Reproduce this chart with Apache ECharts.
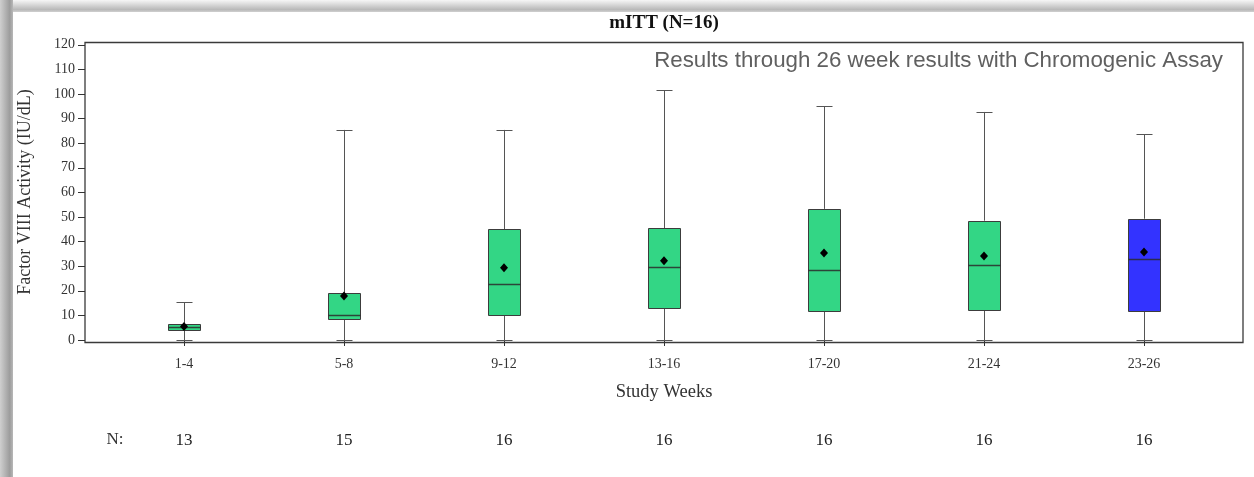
<!DOCTYPE html>
<html>
<head>
<meta charset="utf-8">
<script src="https://cdn.jsdelivr.net/npm/echarts@6/dist/echarts.min.js"></script>
<style>
html,body{margin:0;padding:0;background:#fff;}
#chart{width:1254px;height:477px;}
</style>
</head>
<body>
<div id="chart"></div>
<script>
// ---- data ----
const categories = ['1-4', '5-8', '9-12', '13-16', '17-20', '21-24', '23-26'];
const minVals    = [0, 0, 0, 0, 0, 0, 0];
const q1Vals     = [3.8, 8.4, 10.2, 12.9, 11.8, 12.5, 11.8];
const medianVals = [5.2, 10.3, 22.8, 29.7, 28.3, 30.6, 32.9];
const q3Vals     = [6.4, 19.0, 45.0, 45.5, 53.3, 48.5, 49.3];
const maxVals    = [15.3, 85.4, 85.4, 101.6, 95.1, 92.7, 83.7];
const meanVals   = [5.5, 17.9, 29.4, 32.2, 35.4, 34.1, 35.8];
const nCounts    = ['13', '15', '16', '16', '16', '16', '16'];
const yTicks     = [0, 10, 20, 30, 40, 50, 60, 70, 80, 90, 100, 110, 120];

const GREEN = '#33D685';
const BLUE = '#3333FF';
const SERIF = '"Liberation Serif", "Times New Roman", serif';

const boxData = categories.map((c, i) => ({
  value: [i, minVals[i], q1Vals[i], medianVals[i], q3Vals[i], maxVals[i], meanVals[i]],
  itemStyle: { color: i === categories.length - 1 ? BLUE : GREEN }
}));

const chart = echarts.init(document.getElementById('chart'), null, { renderer: 'canvas' });

function px(v) { return Math.round(v) + 0.5; }

const option = {
  animation: false,
  backgroundColor: '#ffffff',
  grid: [
    { left: 104, right: 30, top: 44.8, bottom: 137, show: false },
    { left: 85, right: 11, top: 42.5, bottom: 134.5, show: true, borderColor: '#3a3a3a', borderWidth: 1.3, backgroundColor: 'transparent' }
  ],
  xAxis: [
    {
      type: 'category', gridIndex: 0, data: categories, position: 'bottom', offset: 2.7,
      axisLine: { show: false },
      axisTick: { show: true, alignWithLabel: true, length: 6, lineStyle: { color: '#333' } },
      axisLabel: { margin: 15, fontFamily: SERIF, fontSize: 14, color: '#333' },
      splitLine: { show: false }
    },
    {
      type: 'category', gridIndex: 0, data: nCounts, position: 'bottom', offset: 0,
      axisLine: { show: false }, axisTick: { show: false },
      axisLabel: { margin: 92, fontFamily: SERIF, fontSize: 17, color: '#222' },
      splitLine: { show: false }
    },
    {
      type: 'category', gridIndex: 1, data: categories, show: false
    }
  ],
  yAxis: [
    {
      type: 'value', gridIndex: 0, min: 0, max: 120, interval: 10, offset: 19,
      axisLine: { show: false },
      axisTick: { show: true, length: 7, lineStyle: { color: '#333' } },
      axisLabel: { margin: 10, fontFamily: SERIF, fontSize: 14, color: '#333',
        customValues: yTicks },
      splitLine: { show: false }
    },
    { type: 'value', gridIndex: 1, show: false, min: 0, max: 1 }
  ],
  graphic: [
    { type: 'rect', shape: { x: 0, y: 0, width: 13, height: 477 }, silent: true,
      style: { fill: new echarts.graphic.LinearGradient(0, 0, 1, 0, [
        { offset: 0, color: '#cfcfcf' }, { offset: 0.75, color: '#9c9c9c' }, { offset: 1, color: '#b8b8b8' }]) } },
    { type: 'rect', shape: { x: 13, y: 0, width: 1241, height: 12 }, silent: true,
      style: { fill: new echarts.graphic.LinearGradient(0, 0, 0, 1, [
        { offset: 0, color: '#f6f6f6' }, { offset: 0.8, color: '#b9b9b9' }, { offset: 1, color: '#d0d0d0' }]) } },
    { type: 'text', x: 664, y: 23, silent: true,
      style: { text: 'mITT (N=16)', fontFamily: SERIF, fontWeight: 'bold', fontSize: 19, fill: '#111',
        textAlign: 'center', textVerticalAlign: 'middle' } },
    { type: 'text', x: 1223, y: 61, silent: true,
      style: { text: 'Results through 26 week results with Chromogenic Assay', fontFamily: '"Liberation Sans", Arial, sans-serif',
        fontSize: 22.3, fill: '#606060', textAlign: 'right', textVerticalAlign: 'middle' } },
    { type: 'text', x: 25, y: 192, rotation: Math.PI / 2, silent: true,
      style: { text: 'Factor VIII Activity (IU/dL)', fontFamily: SERIF, fontSize: 18, fill: '#333',
        textAlign: 'center', textVerticalAlign: 'middle' } },
    { type: 'text', x: 664, y: 392, silent: true,
      style: { text: 'Study Weeks', fontFamily: SERIF, fontSize: 18.5, fill: '#333',
        textAlign: 'center', textVerticalAlign: 'middle' } },
    { type: 'text', x: 115, y: 440, silent: true,
      style: { text: 'N:', fontFamily: SERIF, fontSize: 17, fill: '#333',
        textAlign: 'center', textVerticalAlign: 'middle' } }
  ],
  series: [
    {
      type: 'custom',
      xAxisIndex: 0, yAxisIndex: 0,
      data: boxData,
      encode: { x: 0, y: [1, 2, 3, 4, 5, 6] },
      renderItem: function (params, api) {
        const x = api.value(0);
        const pMin = api.coord([x, api.value(1)]);
        const pQ1 = api.coord([x, api.value(2)]);
        const pMed = api.coord([x, api.value(3)]);
        const pQ3 = api.coord([x, api.value(4)]);
        const pMax = api.coord([x, api.value(5)]);
        const pMean = api.coord([x, api.value(6)]);
        const cx = px(pMin[0]);
        const bw = 32, cw = 16;
        const fill = api.visual('color');
        const whisk = { stroke: '#555', lineWidth: 1 };
        const mx = pMean[0], my = pMean[1];
        return {
          type: 'group',
          children: [
            { type: 'line', shape: { x1: cx, y1: pQ3[1], x2: cx, y2: pMax[1] }, style: whisk },
            { type: 'line', shape: { x1: cx, y1: pQ1[1], x2: cx, y2: pMin[1] }, style: whisk },
            { type: 'line', shape: { x1: cx - cw / 2, y1: px(pMax[1]), x2: cx + cw / 2, y2: px(pMax[1]) }, style: whisk },
            { type: 'line', shape: { x1: cx - cw / 2, y1: px(pMin[1]), x2: cx + cw / 2, y2: px(pMin[1]) }, style: whisk },
            { type: 'rect', shape: { x: cx - bw / 2, y: px(pQ3[1]), width: bw, height: Math.round(pQ1[1] - pQ3[1]) },
              style: { fill: fill, stroke: '#3c3c3c', lineWidth: 1 } },
            { type: 'line', shape: { x1: cx - bw / 2, y1: px(pMed[1]), x2: cx + bw / 2, y2: px(pMed[1]) },
              style: { stroke: '#2b2b2b', lineWidth: 1.3, opacity: 0.85 } },
            { type: 'polygon', shape: { points: [[mx, my - 4.5], [mx + 4, my], [mx, my + 4.5], [mx - 4, my]] },
              style: { fill: '#000' } }
          ]
        };
      }
    }
  ]
};

chart.setOption(option);
</script>
</body>
</html>
